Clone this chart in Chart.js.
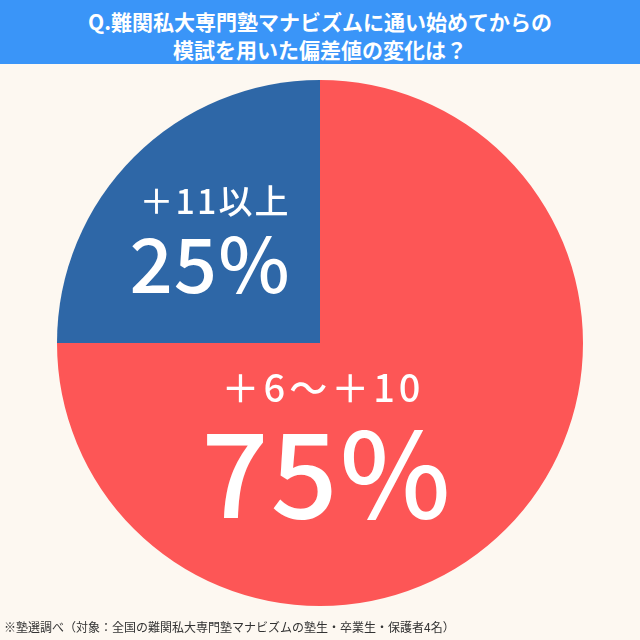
<!DOCTYPE html>
<html>
<head>
<meta charset="utf-8">
<script src="https://cdn.jsdelivr.net/npm/chart.js@4"></script>
<style>
  html, body { margin: 0; padding: 0; background: #fdf8f1; }
  #wrap { position: relative; width: 640px; height: 640px; }
  #head {
    position: absolute; left: 0; top: 0; width: 640px; height: 64px;
    background: #3a95f8; color: #fff; text-align: center;
    font-family: "Noto Sans CJK JP", sans-serif; font-weight: 700;
    font-size: 21px; line-height: 28px; padding-top: 7px; box-sizing: border-box;
  }
  #note {
    position: absolute; left: 4px; top: 618px;
    font-family: "Noto Sans CJK JP", sans-serif; font-size: 12px; color: #333;
  }
</style>
</head>
<body>
<div id="wrap">
  <canvas id="pieChart" width="640" height="640"></canvas>
  <div id="head">Q.難関私大専門塾マナビズムに通い始めてからの<br>模試を用いた偏差値の変化は？</div>
  <div id="note">※塾選調べ（対象：全国の難関私大専門塾マナビズムの塾生・卒業生・保護者4名）</div>
</div>
<script>
// 偏差値の変化
const categorias = ['＋6〜＋10', '＋11以上'];
const valores = [75, 25];
const cores = ['#fd5656', '#2e67a7'];

// ラベルを描くプラグイン
const rotulos = {
  id: 'rotulos',
  afterDatasetsDraw(chart) {
    const ctx = chart.ctx;
    const arc = chart.getDatasetMeta(0).data[0];
    const cx = arc.x, cy = arc.y;
    ctx.save();
    ctx.fillStyle = '#fff';
    ctx.textAlign = 'center';
    ctx.textBaseline = 'alphabetic';
    // +6〜+10
    ctx.letterSpacing = '4px';
    ctx.font = '500 38px "Noto Sans CJK JP"';
    ctx.fillText(categorias[0], cx + 3, cy + 59);
    ctx.letterSpacing = '2px';
    ctx.font = '500 118px "Noto Sans CJK JP"';
    ctx.fillText(valores[0] + '%', cx + 7, cy + 175);
    // +11以上
    ctx.letterSpacing = '2px';
    ctx.font = '500 34px "Noto Sans CJK JP"';
    ctx.fillText(categorias[1], cx - 105, cy - 129);
    ctx.letterSpacing = '1px';
    ctx.font = '500 76px "Noto Sans CJK JP"';
    ctx.fillText(valores[1] + '%', cx - 110, cy - 50);
    ctx.restore();
  }
};

const fundo = {
  id: 'fundo',
  beforeDraw(chart) {
    const ctx = chart.ctx;
    ctx.save();
    ctx.fillStyle = '#fdf8f1';
    ctx.fillRect(0, 0, chart.width, chart.height);
    ctx.restore();
  }
};

new Chart(document.getElementById('pieChart'), {
  type: 'pie',
  data: {
    labels: categorias,
    datasets: [{
      data: valores,
      backgroundColor: cores,
      borderWidth: 0
    }]
  },
  options: {
    responsive: false,
    animation: false,
    layout: { padding: { top: 80, bottom: 34, left: 57, right: 57 } },
    plugins: {
      legend: { display: false },
      tooltip: { enabled: false }
    }
  },
  plugins: [fundo, rotulos]
});
</script>
</body>
</html>
